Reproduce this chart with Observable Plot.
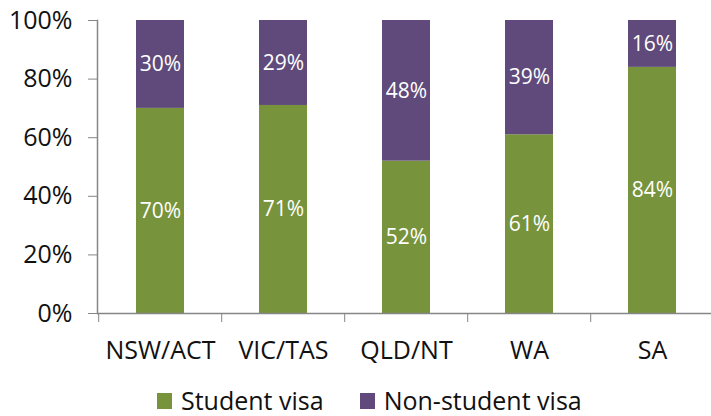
<!DOCTYPE html>
<html>
<head>
<meta charset="utf-8">
<script src="https://cdn.jsdelivr.net/npm/d3@7"></script>
<script src="https://cdn.jsdelivr.net/npm/@observablehq/plot@0.6"></script>
<style>
  html, body { margin: 0; padding: 0; background: #fff; }
  #chart { width: 711px; height: 416px; position: relative; font-family: "Open Sans", sans-serif; }
  .legend { position: absolute; left: 157px; top: 388px; display: flex; align-items: center; font-size: 25px; color: #111; white-space: nowrap; line-height: 1; }
  .legend .sw { width: 15px; height: 16px; display: inline-block; margin-right: 9px; }
  .legend .item { display: flex; align-items: center; }
</style>
</head>
<body>
<div id="chart"></div>
<script>
const categories = ["NSW/ACT", "VIC/TAS", "QLD/NT", "WA", "SA"];
const studentVisa = [70, 71, 52, 61, 84];
const nonStudentVisa = [30, 29, 48, 39, 16];
const seriesNames = ["Student visa", "Non-student visa"];
const seriesColors = ["#77933C", "#604A7B"];
const yTicks = [0, 20, 40, 60, 80, 100];

const data = [];
categories.forEach((c, i) => {
  data.push({cat: c, series: seriesNames[0], value: studentVisa[i]});
  data.push({cat: c, series: seriesNames[1], value: nonStudentVisa[i]});
});

const W = 711, H = 375;
const xRange = [97, 715];
const step = (xRange[1] - xRange[0]) / categories.length;

const plot = Plot.plot({
  width: W,
  height: H,
  marginLeft: 97,
  marginRight: 0,
  marginTop: 20,
  marginBottom: 62,
  style: {fontFamily: "'Open Sans', sans-serif", background: "#fff"},
  x: {domain: categories, range: xRange, paddingInner: 0.61, paddingOuter: 0.305, label: null},
  y: {domain: [0, 100], label: null},
  color: {domain: seriesNames, range: seriesColors},
  marks: [
    Plot.barY(data, {x: "cat", y: "value", fill: "series", order: seriesNames}),
    Plot.text(data, Plot.stackY({x: "cat", y: "value", z: "series", order: seriesNames, text: d => d.value + "%", fill: "white", fontSize: 21})),
    Plot.frame({anchor: "left", stroke: "#868686", strokeWidth: 1.5}),
    Plot.ruleY([0], {stroke: "#868686", strokeWidth: 1.5}),
    Plot.axisY({ticks: yTicks, tickFormat: d => d + "%", tickSize: 9, tickPadding: 16, fontSize: 25, stroke: "#868686", fill: "#111"}),
    Plot.axisX({tickSize: 9, tickFormat: () => "", dx: -step / 2, stroke: "#868686"}),
    Plot.axisX({tickSize: 0, tickPadding: 28, fontSize: 25, fill: "#111"})
  ]
});

const chart = document.getElementById("chart");
chart.appendChild(plot);

const legend = document.createElement("div");
legend.className = "legend";
seriesNames.forEach((name, i) => {
  const item = document.createElement("span");
  item.className = "item";
  if (i > 0) item.style.marginLeft = "36px";
  const sw = document.createElement("span");
  sw.className = "sw";
  sw.style.background = seriesColors[i];
  item.appendChild(sw);
  item.appendChild(document.createTextNode(name));
  legend.appendChild(item);
});
chart.appendChild(legend);
</script>
</body>
</html>
